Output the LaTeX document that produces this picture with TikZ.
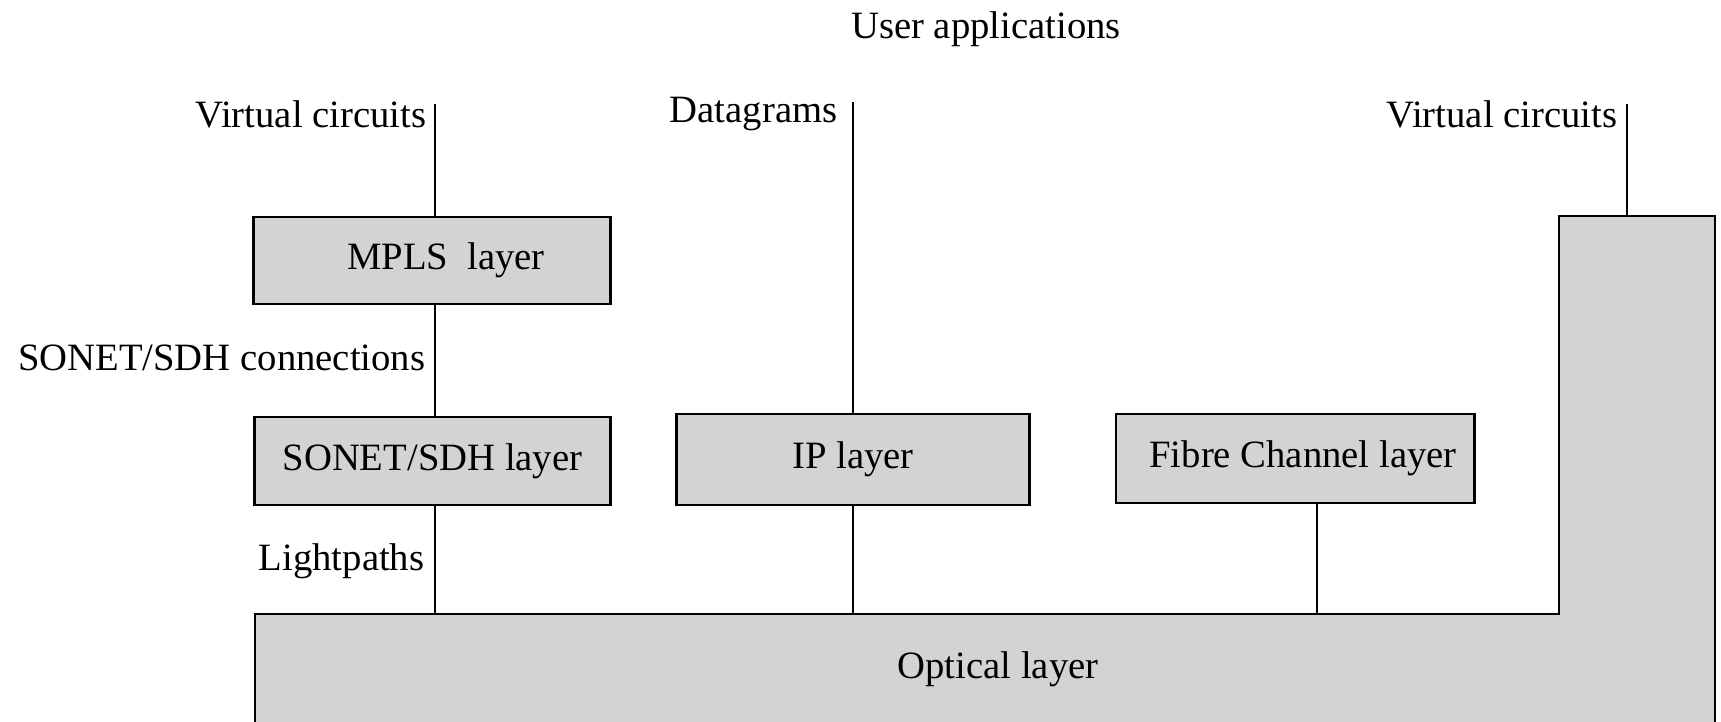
\documentclass[tikz,border=0pt]{standalone}
\usepackage{fontspec}
\setmainfont{Liberation Serif}
\definecolor{layergray}{RGB}{209,211,212}

\begin{document}
\begin{tikzpicture}[x=0.01cm, y=-0.01cm,
        font=\fontsize{11}{13}\selectfont,
        layer/.style={draw, line width=0.8pt, fill=layergray, inner sep=0pt},
        lbl/.style={inner sep=0pt, anchor=base east},
        link/.style={line width=0.6pt},
    ]
    \useasboundingbox (0,0) rectangle (1721,721);
    % the optical layer, open at the bottom, with its tall part on the right
    \begin{scope}
        \clip (0,0) rectangle (1721,721);
        \draw[layer] (255,760) -- (255,614) -- (1559,614) -- (1559,216)
            -- (1715,216) -- (1715,760);
    \end{scope}
    \coordinate (optop) at (0,614);
    \node[inner sep=0pt, anchor=base] (optical) at (998,678) {Optical layer};

    % client layers
    \node[layer, minimum width=3.56cm, minimum height=0.87cm] (mpls) at (432,260.5)
        {\hspace*{0.28cm}MPLS\ \ layer};
    \node[layer, minimum width=3.55cm, minimum height=0.88cm] (sonet) at (432.5,461)
        {SONET/SDH layer};
    \node[layer, minimum width=3.53cm, minimum height=0.91cm] (ip) at (853,459.5)
        {IP layer};
    \node[layer, minimum width=3.58cm, minimum height=0.89cm] (fc) at (1295,458.5)
        {\hspace*{0.16cm}Fibre Channel layer};

    % free ends at the top
    \coordinate (vcl) at (435,104);
    \coordinate (dg) at (853,102);
    \coordinate (vcr) at (1627,104);

    \node[inner sep=0pt, anchor=base] (user) at (986,38) {User applications};
    \node[lbl] (vcltext) at (427,127) {Virtual circuits};
    \node[lbl] (dgtext) at (838,122) {Datagrams};
    \node[lbl] (vcrtext) at (1618,127) {Virtual circuits};
    \node[lbl] (sonettext) at (426,370) {SONET/SDH connections};
    \node[lbl] (lighttext) at (425,570) {Lightpaths};

    % connections between the layers
    \draw[link] (vcl) -- (vcl |- mpls.north);
    \draw[link] (vcl |- mpls.south) -- (vcl |- sonet.north);
    \draw[link] (vcl |- sonet.south) -- (vcl |- optop);
    \draw[link] (dg) -- (ip.north);
    \draw[link] (ip.south) -- (ip.south |- optop);
    \draw[link] (1317,503) coordinate (fcfoot) -- (fcfoot |- optop);
    \draw[link] (vcr) -- (1627,216);
\end{tikzpicture}
\end{document}
